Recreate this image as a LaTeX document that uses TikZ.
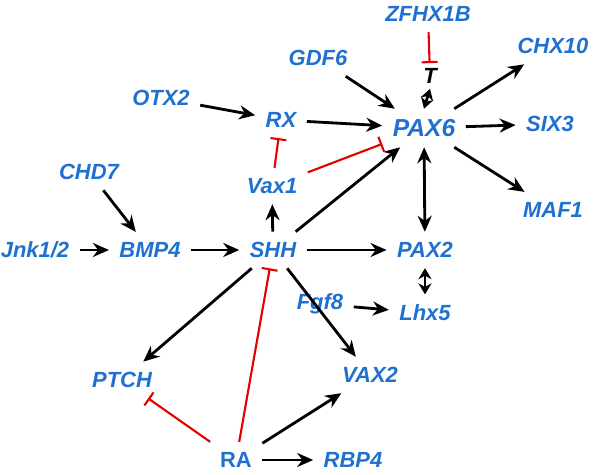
\documentclass[tikz,border=0pt]{standalone}
\usepackage{fontspec}
\setmainfont{Liberation Sans}
\usetikzlibrary{arrows.meta}
\definecolor{geneblue}{RGB}{31,112,208}
\begin{document}
\begin{tikzpicture}
    [
        x=0.02cm, y=-0.02cm,
        gene/.style = {
                text=geneblue,
                font=\bfseries\itshape\fontsize{12.5}{14}\selectfont,
                inner sep=1pt,
                outer sep=5pt
            },
        act/.style = {
                -{Stealth[length=3.2mm,width=2.8mm]},
                line width=1.6pt
            },
        both/.style = {
                {Stealth[length=2.2mm,width=2.6mm]}-{Stealth[length=2.2mm,width=2.6mm]},
                line width=1.6pt
            },
        inh/.style = {
                -{Bar[width=3.2mm]},
                draw=red!90!black,
                line width=1.2pt
            },
    ]
    \useasboundingbox (0,0) rectangle (600,475);

    \node [gene] (zfhx1b) at (428,14) {ZFHX1B};
    \node [gene, text=black, outer sep=2pt] (t) at (430,76) {T};
    \node [gene] (chx10) at (553,46) {CHX10};
    \node [gene] (gdf6) at (318,58) {GDF6};
    \node [gene] (otx2) at (161,98) {OTX2};
    \node [gene] (rx) at (281,120) {RX};
    \node [gene] (six3) at (550,124) {SIX3};
    \node [gene, font=\bfseries\itshape\fontsize{14}{16}\selectfont] (pax6) at (424,128) {PAX6};
    \node [gene] (chd7) at (89,172) {CHD7};
    \node [gene] (vax1) at (272,186) {Vax1};
    \node [gene] (maf1) at (553,210) {MAF1};
    \node [gene] (jnk) at (35,250) {Jnk1/2};
    \node [gene] (bmp4) at (150,250) {BMP4};
    \node [gene] (shh) at (273,250) {SHH};
    \node [gene] (pax2) at (425,250) {PAX2};
    \node [gene] (fgf8) at (320,304) {Fgf8};
    \node [gene] (lhx5) at (425,313) {Lhx5};
    \node [gene] (ptch) at (122,380) {PTCH};
    \node [gene] (vax2) at (370,375) {VAX2};
    \node [gene, font=\bfseries\fontsize{12.5}{14}\selectfont] (ra) at (236,460) {RA};
    \node [gene] (rbp4) at (353,460) {RBP4};

    % activation
    \foreach \a/\b in {gdf6/pax6, otx2/rx, rx/pax6, pax6/chx10, pax6/six3, pax6/maf1,
                       shh/vax1, shh/pax6, shh/pax2, chd7/bmp4, jnk/bmp4, bmp4/shh,
                       fgf8/lhx5, shh/ptch, shh/vax2, ra/vax2, ra/rbp4}
        \draw [act] (\a) -- (\b);

    % both ways
    \draw [both, {Stealth[length=3.2mm,width=2.8mm]}-{Stealth[length=3.2mm,width=2.8mm]}] (pax6) -- (pax2);
    \draw [both] (t.south) -- (pax6.north);
    \draw [both] (pax2.south) -- (lhx5.north);

    % inhibition
    \foreach \a/\b in {zfhx1b/t, vax1/rx, vax1/pax6, ra/shh, ra/ptch}
        \draw [inh] (\a) -- (\b);

\end{tikzpicture}
\end{document}
